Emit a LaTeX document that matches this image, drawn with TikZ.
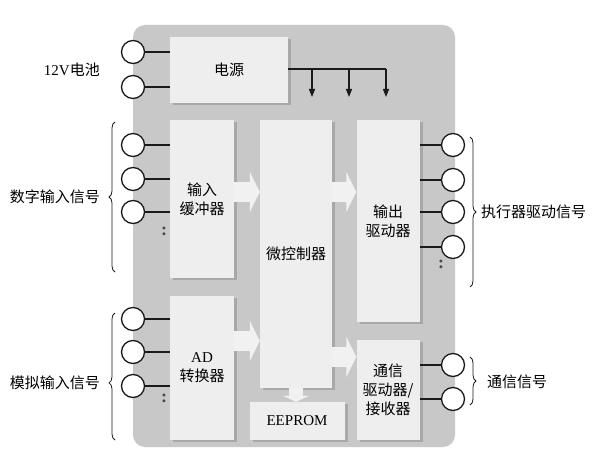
\documentclass[tikz,border=0pt]{standalone}
\usepackage{fontspec}
\setmainfont{Liberation Serif}
\newfontfamily\cjk{Noto Sans CJK SC}
\usepackage{tikz}
\usetikzlibrary{arrows.meta,decorations.pathreplacing}
\definecolor{BoardGray}{HTML}{C8C8C8}
\definecolor{UnitFace}{HTML}{EEEEEE}
\definecolor{UnitEdge}{HTML}{A8A8A8}
\definecolor{FeedFill}{HTML}{F1F1F1}
\definecolor{WireBlack}{HTML}{1A1A1A}
\tikzset{
  board/.style={fill=BoardGray,rounded corners=12pt,inner sep=0pt},
  unitbox/.style={fill=UnitFace,inner sep=0pt,align=center,font=\cjk\fontsize{15}{19}\selectfont,
    preaction={fill=UnitEdge,transform canvas={xshift=3pt,yshift=-2pt}}},
  port/.style={circle,draw=WireBlack,fill=white,line width=1.3pt,minimum size=23pt,inner sep=0pt},
  wire/.style={draw=WireBlack,line width=1.3pt},
  tapline/.style={wire,-{Triangle[length=8pt,width=6pt]}},
  feed/.style={draw=FeedFill,line width=20pt,-{Triangle[length=10pt,width=40pt]}},
  ellip/.style={font=\bfseries\fontsize{18}{18}\selectfont,inner sep=0pt,text=WireBlack!80},
  bundle/.style={draw=WireBlack,line width=0.8pt,decorate,decoration={brace,amplitude=6pt}},
  sig/.style={font=\cjk\fontsize{15}{18}\selectfont,inner sep=0pt}
}

\begin{document}
\begin{tikzpicture}[x=1pt,y=-1pt]
  \useasboundingbox (0,0) rectangle (601,465);

  % Module housing.
  \node[board,minimum width=322pt,minimum height=422pt] (board) at (294,236) {};

  % Functional units.
  \node[unitbox,minimum width=118pt,minimum height=66pt] (pwr) at (229,70) {电源};
  \node[unitbox,minimum width=64pt,minimum height=158pt] (buf) at (202,199) {输入\\缓冲器};
  \node[unitbox,minimum width=64pt,minimum height=144pt] (adc) at (202,368) {{\rmfamily AD}\\转换器};
  \node[unitbox,minimum width=72pt,minimum height=267pt] (mcu) at (296,254) {微控制器};
  \node[unitbox,minimum width=95pt,minimum height=38pt] (eep) at (297,421) {\rmfamily EEPROM};
  \node[unitbox,minimum width=63pt,minimum height=202pt] (drv) at (388,221) {输出\\驱动器};
  \node[unitbox,minimum width=63pt,minimum height=100pt] (com) at (388,390) {通信\\驱动器/\\接收器};

  % Internal data flow.
  \draw[feed] ([yshift=7pt]buf.east) -- ([yshift=7pt]buf.east -| mcu.west);
  \draw[feed] ([yshift=27pt]adc.east) -- ([yshift=27pt]adc.east -| mcu.west);
  \draw[feed] ([yshift=7pt]buf.east -| mcu.east) -- ([yshift=7pt]buf.east -| drv.west);
  \draw[feed] ([yshift=33pt]com.west -| mcu.east) -- ([yshift=33pt]com.west);
  \draw[feed,line width=14pt,-{Triangle[length=6pt,width=26pt]}] (mcu.south) -- (mcu.south |- eep.north);

  % Supply distribution.
  \foreach \n/\x in {1/312,2/349,3/386} {
    \coordinate (tap\n) at (\x,69);
    \coordinate (load\n) at (\x,97);
    \draw[tapline] (tap\n) -- (load\n);
  }
  \draw[wire] (pwr.east |- tap3) -- (tap3);

  % Battery terminals.
  \foreach \n/\y in {1/52,2/87} {
    \node[port] (bat\n) at (133,\y) {};
    \draw[wire] (bat\n) -- (bat\n -| pwr.west);
  }

  % Digital and analog inputs.
  \foreach \n/\y in {1/145,2/179,3/212} {
    \node[port] (din\n) at (133,\y) {};
    \draw[wire] (din\n) -- (din\n -| buf.west);
  }
  \node[ellip] (dinmore) at (164,231) {:};
  \foreach \n/\y in {1/319,2/352,3/386} {
    \node[port] (ain\n) at (133,\y) {};
    \draw[wire] (ain\n) -- (ain\n -| adc.west);
  }
  \node[ellip] (ainmore) at (164,398) {:};

  % Actuator and bus outputs.
  \foreach \n/\y in {1/145,2/180,3/212,4/247} {
    \node[port] (dout\n) at (453,\y) {};
    \draw[wire] (dout\n -| drv.east) -- (dout\n);
  }
  \node[ellip] (doutmore) at (441,264) {:};
  \foreach \n/\y in {1/365,2/399} {
    \node[port] (bus\n) at (453,\y) {};
    \draw[wire] (bus\n -| com.east) -- (bus\n);
  }

  % Signal groups.
  \coordinate (dintop) at (115,122);  \coordinate (dinbot) at (115,272);
  \coordinate (aintop) at (115,313);  \coordinate (ainbot) at (115,440);
  \coordinate (douttop) at (470,137); \coordinate (doutbot) at (470,287);
  \coordinate (bustop) at (470,357);  \coordinate (busbot) at (470,405);
  \draw[bundle] (dinbot) -- (dintop);
  \draw[bundle,decoration={aspect=0.45}] (ainbot) -- (aintop);
  \draw[bundle] (douttop) -- (doutbot);
  \draw[bundle] (bustop) -- (busbot);

  \node[sig,anchor=east] (batlbl) at (100,70) {{\rmfamily 12V}电池};
  \node[sig,anchor=east] (dinlbl) at (100,197) {数字输入信号};
  \node[sig,anchor=east] (ainlbl) at (100,383) {模拟输入信号};
  \node[sig,anchor=west] (doutlbl) at (481,212) {执行器驱动信号};
  \node[sig,anchor=west] (buslbl) at (487,382) {通信信号};
\end{tikzpicture}
\end{document}
